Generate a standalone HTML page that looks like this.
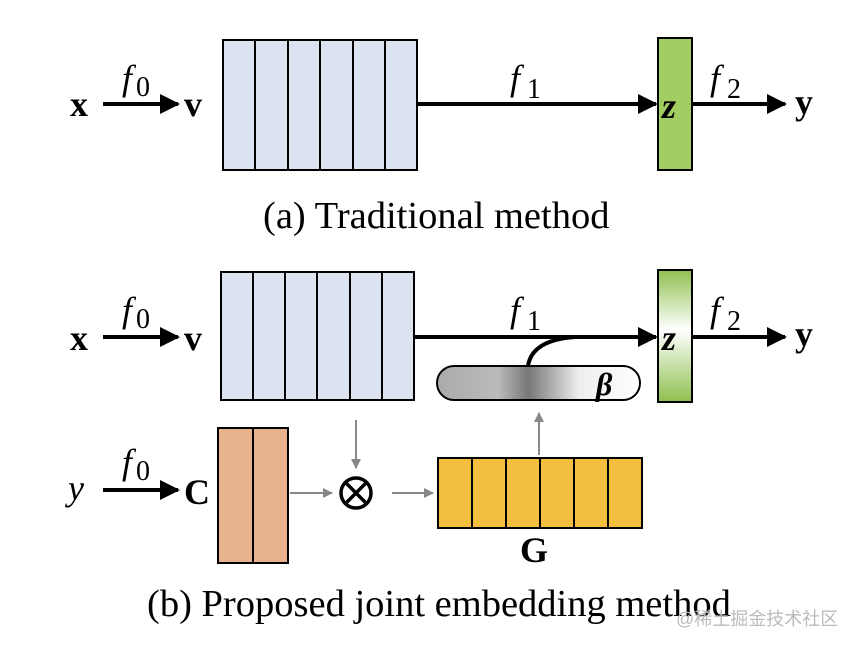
<!DOCTYPE html>
<html><head><style>body{margin:0;background:#fff}</style></head><body>
<svg width="860" height="646" viewBox="0 0 860 646" xmlns="http://www.w3.org/2000/svg" font-family="Liberation Serif, serif">
<defs>
<marker id="ab" viewBox="0 0 10 10" markerWidth="22" markerHeight="20" refX="9" refY="5" orient="auto" markerUnits="userSpaceOnUse"><path d="M0,0L10,5L0,10z" fill="#000"/></marker>
<marker id="ag" viewBox="0 0 10 10" markerWidth="12" markerHeight="10" refX="9" refY="5" orient="auto" markerUnits="userSpaceOnUse"><path d="M0,0L10,5L0,10z" fill="#888"/></marker>
<linearGradient id="gzv" x1="0" y1="0" x2="0" y2="1"><stop offset="0" stop-color="#8fc04f"/><stop offset="0.45" stop-color="#fff"/><stop offset="1" stop-color="#8fc04f"/></linearGradient>
<linearGradient id="gb" x1="0" x2="1"><stop offset="0" stop-color="#aaa"/><stop offset="0.3" stop-color="#bbb"/><stop offset="0.45" stop-color="#777"/><stop offset="0.7" stop-color="#eee"/><stop offset="1" stop-color="#fff"/></linearGradient>
</defs>
<g stroke="#000" stroke-width="2" fill="#dce3f0">
<rect x="223" y="40" width="194" height="130"/>
<line x1="255" y1="40" x2="255" y2="170"/><line x1="288" y1="40" x2="288" y2="170"/><line x1="320" y1="40" x2="320" y2="170"/><line x1="353" y1="40" x2="353" y2="170"/><line x1="385" y1="40" x2="385" y2="170"/>
</g>
<rect x="658" y="38" width="34" height="132" fill="#a2cd63" stroke="#000" stroke-width="2"/>
<g stroke="#000" stroke-width="4" fill="none">
<line x1="103" y1="104" x2="178" y2="104" marker-end="url(#ab)"/>
<line x1="417" y1="104" x2="656" y2="104" marker-end="url(#ab)"/>
<line x1="692" y1="104" x2="785" y2="104" marker-end="url(#ab)"/>
</g>
<g font-size="36">
<text x="70" y="116" font-weight="bold">x</text>
<text x="184" y="116" font-weight="bold">v</text>
<text x="122" y="90" font-style="italic">f</text><text x="136" y="96" font-size="28">0</text>
<text x="510" y="90" font-style="italic">f</text><text x="527" y="98" font-size="28">1</text>
<text x="710" y="90" font-style="italic">f</text><text x="727" y="98" font-size="28">2</text>
<text x="662" y="118" font-weight="bold" font-style="italic">z</text>
<text x="795" y="114" font-weight="bold">y</text>
<text x="263" y="228" font-size="38.5">(a) Traditional method</text>
</g>
<g stroke="#000" stroke-width="2" fill="#dce3f0">
<rect x="221" y="272" width="193" height="128"/>
<line x1="253" y1="272" x2="253" y2="400"/><line x1="285" y1="272" x2="285" y2="400"/><line x1="317" y1="272" x2="317" y2="400"/><line x1="350" y1="272" x2="350" y2="400"/><line x1="382" y1="272" x2="382" y2="400"/>
</g>
<rect x="658" y="270" width="34" height="132" fill="url(#gzv)" stroke="#000" stroke-width="2"/>
<rect x="437" y="366" width="203" height="34" rx="17" fill="url(#gb)" stroke="#000" stroke-width="2"/>
<path d="M528,366 Q532,340 575,337" stroke="#000" stroke-width="4" fill="none"/>
<g stroke="#000" stroke-width="4" fill="none">
<line x1="103" y1="337" x2="178" y2="337" marker-end="url(#ab)"/>
<line x1="414" y1="337" x2="656" y2="337" marker-end="url(#ab)"/>
<line x1="692" y1="337" x2="785" y2="337" marker-end="url(#ab)"/>
<line x1="103" y1="490" x2="178" y2="490" marker-end="url(#ab)"/>
</g>
<g stroke="#000" stroke-width="2">
<rect x="218" y="428" width="70" height="135" fill="#e8b38c"/>
<line x1="253" y1="428" x2="253" y2="563"/>
<rect x="438" y="458" width="204" height="70" fill="#f4be41"/>
<line x1="472" y1="458" x2="472" y2="528"/><line x1="506" y1="458" x2="506" y2="528"/><line x1="540" y1="458" x2="540" y2="528"/><line x1="574" y1="458" x2="574" y2="528"/><line x1="608" y1="458" x2="608" y2="528"/>
</g>
<g stroke="#888" stroke-width="2">
<line x1="290" y1="493" x2="332" y2="493" marker-end="url(#ag)"/>
<line x1="392" y1="493" x2="433" y2="493" marker-end="url(#ag)"/>
<line x1="356" y1="420" x2="356" y2="468" marker-end="url(#ag)"/>
<line x1="539" y1="455" x2="539" y2="413" marker-end="url(#ag)"/>
</g>
<circle cx="356" cy="493" r="15" fill="none" stroke="#000" stroke-width="3.5"/>
<line x1="345.4" y1="482.4" x2="366.6" y2="503.6" stroke="#000" stroke-width="3.5"/>
<line x1="366.6" y1="482.4" x2="345.4" y2="503.6" stroke="#000" stroke-width="3.5"/>
<g font-size="36">
<text x="70" y="350" font-weight="bold">x</text>
<text x="184" y="350" font-weight="bold">v</text>
<text x="122" y="322" font-style="italic">f</text><text x="136" y="328" font-size="28">0</text>
<text x="510" y="322" font-style="italic">f</text><text x="527" y="330" font-size="28">1</text>
<text x="710" y="322" font-style="italic">f</text><text x="727" y="330" font-size="28">2</text>
<text x="662" y="350" font-weight="bold" font-style="italic">z</text>
<text x="795" y="346" font-weight="bold">y</text>
<text x="596" y="395" font-weight="bold" font-style="italic" font-size="32">β</text>
<text x="68" y="500" font-style="italic">y</text>
<text x="122" y="474" font-style="italic">f</text><text x="136" y="480" font-size="28">0</text>
<text x="184" y="504" font-weight="bold">C</text>
<text x="520" y="562" font-weight="bold">G</text>
<text x="147" y="616" font-size="38.5">(b) Proposed joint embedding method</text>
</g>
<text x="676" y="625" font-size="18" fill="#bbb" font-family="Liberation Sans, Noto Sans CJK SC, sans-serif">@稀土掘金技术社区</text>
</svg>
</body></html>
